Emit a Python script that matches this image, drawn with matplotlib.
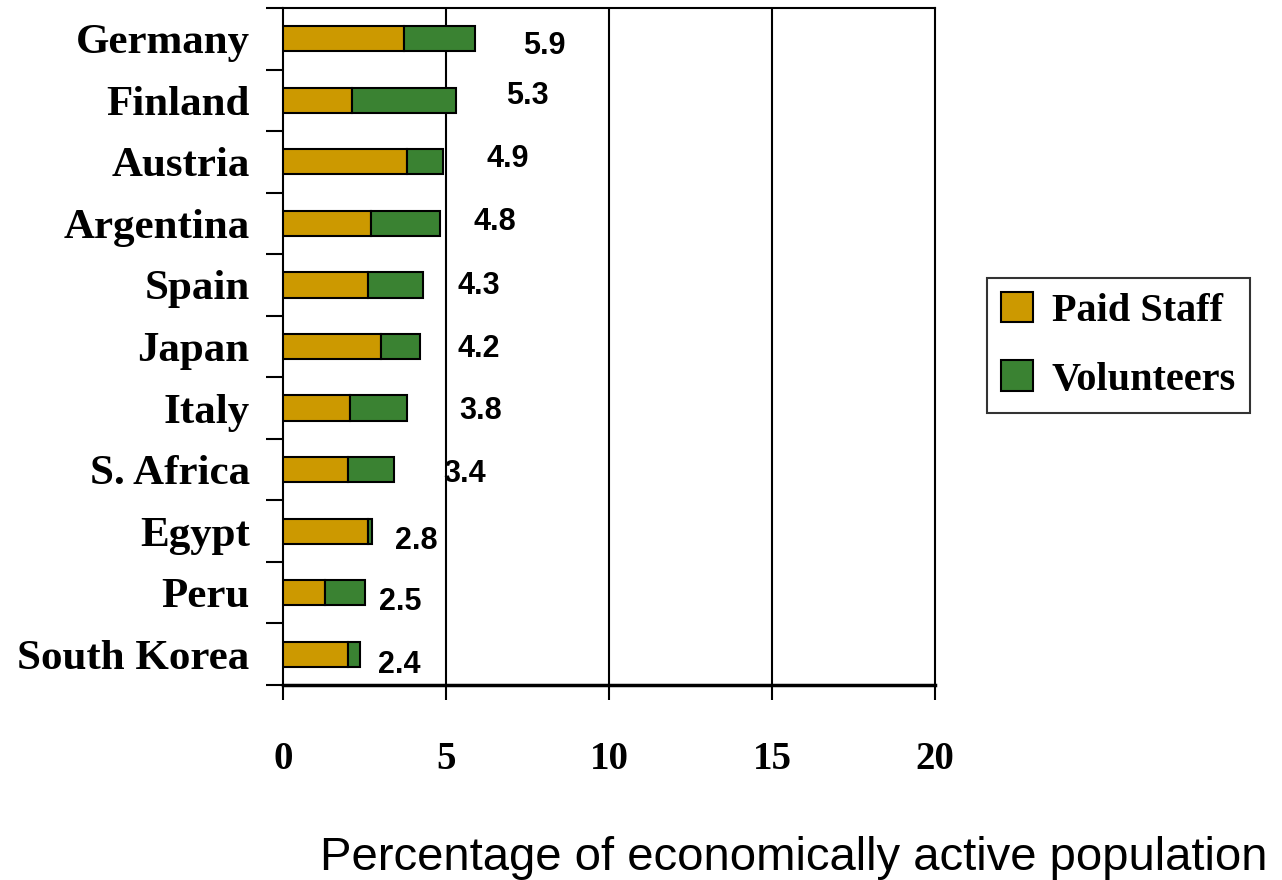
import numpy as np
import matplotlib
matplotlib.use('Agg')
import matplotlib.pyplot as plt
from matplotlib.patches import Patch

countries = ['Germany', 'Finland', 'Austria', 'Argentina', 'Spain', 'Japan',
             'Italy', 'S. Africa', 'Egypt', 'Peru', 'South Korea']
paid = [3.7, 2.1, 3.8, 2.7, 2.6, 3.0, 2.05, 2.0, 2.6, 1.3, 2.0]
volunteers = [2.2, 3.2, 1.1, 2.1, 1.7, 1.2, 1.75, 1.4, 0.12, 1.2, 0.37]
totals = ['5.9', '5.3', '4.9', '4.8', '4.3', '4.2', '3.8', '3.4', '2.8', '2.5', '2.4']

# label placement (offset from bar end in data units, vertical offset in points)
label_dx = [1.45, 1.55, 1.35, 1.05, 1.05, 1.15, 1.6, 1.5, 0.7, 0.45, 0.55]
label_dy = [-5, 3, 2, 1, -1, -2, -2, -3, -7, -7, -8]

paid_color = '#cc9900'
vol_color = '#3a8232'

fig = plt.figure(figsize=(12.82, 8.8), dpi=100)
ax = fig.add_axes([0.2208, 0.2216, 0.5085, 0.7693])

y = np.arange(len(countries))
ax.barh(y, paid, height=0.41, color=paid_color, edgecolor='black', linewidth=1.5, zorder=3)
ax.barh(y, volunteers, left=paid, height=0.41, color=vol_color, edgecolor='black',
        linewidth=1.5, zorder=3)

for i in range(len(countries)):
    end = paid[i] + volunteers[i]
    ax.annotate(totals[i], (end + label_dx[i], y[i]), xytext=(0, label_dy[i]),
                textcoords='offset points', ha='left', va='center',
                fontsize=22, fontweight='bold', family='Liberation Sans')

ax.set_xlim(0, 20)
ax.set_ylim(len(countries) - 0.5, -0.5)
ax.set_xticks([0, 5, 10, 15, 20])
ax.set_xticklabels(['0', '5', '10', '15', '20'], family='Liberation Serif',
                   fontweight='bold', fontsize=28)
ax.set_yticks(y)
ax.set_yticklabels(countries, family='Liberation Serif', fontweight='bold', fontsize=31)
ax.set_yticks(np.arange(-0.5, len(countries), 1), minor=True)
ax.tick_params(axis='y', which='major', length=0, pad=24)
ax.tick_params(axis='y', which='minor', length=12, width=1.5, direction='out')
ax.tick_params(axis='x', which='major', length=11, width=1.5, direction='out', pad=29)

for xv in [5, 10, 15]:
    ax.axvline(xv, color='black', linewidth=1.5, zorder=1)

for side in ['left', 'right', 'top']:
    ax.spines[side].set_linewidth(1.5)
ax.spines['bottom'].set_linewidth(2.5)

fig.text(0.619, 0.025, 'Percentage of economically active population',
         ha='center', va='center', fontsize=34, family='Liberation Sans')

handles = [Patch(facecolor=paid_color, edgecolor='black', linewidth=1.5),
           Patch(facecolor=vol_color, edgecolor='black', linewidth=1.5)]
leg = fig.legend(handles, ['Paid Staff', 'Volunteers'], loc='center',
                 bbox_to_anchor=(0.8725, 0.6078),
                 prop={'family': 'Liberation Serif', 'weight': 'bold', 'size': 29},
                 frameon=True, fancybox=False, edgecolor='black', handlelength=0.8,
                 handleheight=0.8, handletextpad=0.45, labelspacing=0.75,
                 borderpad=0.35, borderaxespad=0)
leg.get_frame().set_linewidth(1.5)

fig.savefig('out.png', dpi=100)
